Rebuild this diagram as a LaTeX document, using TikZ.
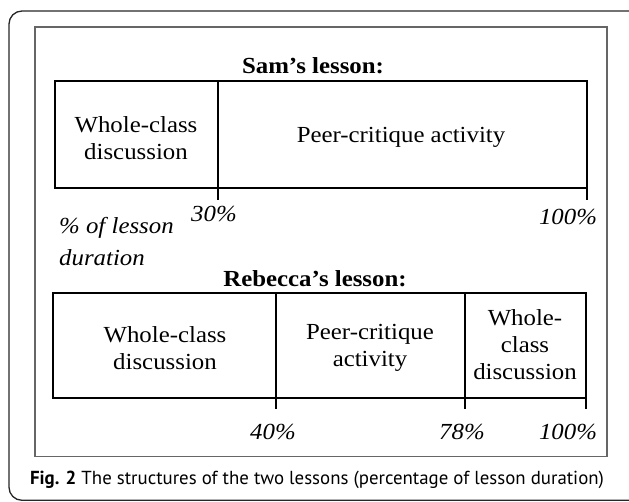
\documentclass[tikz,border=0pt]{standalone}
\usepackage{fontspec}
\setmainfont{Liberation Serif}[FakeStretch=1.08]
\newfontfamily\capfont{PT Sans}
\begin{document}
\begin{tikzpicture}[x=1pt,y=-1pt,
  box/.style={draw=black,line width=1.1pt,inner sep=0pt,outer sep=0pt,anchor=north west},
  rule/.style={line width=1.1pt},
  lbl/.style={font=\fontsize{23}{27}\selectfont,align=center,inner sep=0pt},
  pct/.style={font=\fontsize{23}{27}\selectfont\itshape,inner sep=0pt,anchor=base},
  ttl/.style={font=\fontsize{23}{27}\selectfont\bfseries,inner sep=0pt,anchor=base}]
\useasboundingbox (0,0) rectangle (629,501);
\clip (0,0) rectangle (629,501);
\draw[line width=1.3pt,draw=black!85,rounded corners=13pt] (9,11) rectangle (680,500.3);
\draw[line width=1.1pt,draw=black!60] (35,27) rectangle (607,456.5);
% Sam
\node[ttl] (samt) at (313,73.5) {Sam’s lesson:};
\node[box,minimum width=532pt,minimum height=107pt] (sam) at (55,81) {};
\coordinate (s30t) at (218,81);
\coordinate (s30b) at (218,200);
\coordinate (s100b) at (587,200);
\draw[rule] (s30t) -- (s30b);
\draw[rule] (sam.south east) -- (s100b);
\node[lbl] (s1) at (136,138) {Whole-class\\discussion};
\node[lbl] (s2) at (401,137) {Peer-critique activity};
\node[pct] (p30) at (214,221.5) {30\%};
\node[pct] (p100) at (568,224) {100\%};
\node[pct,anchor=base west] (dur1) at (59,233) {\% of lesson};
\node[pct,anchor=base west] (dur2) at (59,265) {duration};
% Rebecca
\node[ttl] (rebt) at (315,286) {Rebecca’s lesson:};
\node[box,minimum width=533pt,minimum height=105pt] (reb) at (53,293) {};
\coordinate (r40t) at (276,293);
\coordinate (r40b) at (276,409);
\coordinate (r78t) at (465,293);
\coordinate (r78b) at (465,409);
\coordinate (r100b) at (586,409);
\draw[rule] (r40t) -- (r40b);
\draw[rule] (r78t) -- (r78b);
\draw[rule] (reb.south east) -- (r100b);
\node[lbl] (r1) at (165,348) {Whole-class\\discussion};
\node[lbl] (r2) at (370,348) {Peer-critique\\activity};
\node[lbl] (r3) at (525,345) {Whole-\\class\\discussion};
\node[pct] (p40) at (273,439) {40\%};
\node[pct] (p78) at (462,439) {78\%};
\node[pct] (p100b) at (568,439) {100\%};
% caption
\node[inner sep=0pt] (cap) at (317,480) {\resizebox{574pt}{!}{\capfont\fontsize{16}{18}\selectfont\textbf{Fig. 2} The structures of the two lessons (percentage of lesson duration)}};
\end{tikzpicture}
\end{document}
